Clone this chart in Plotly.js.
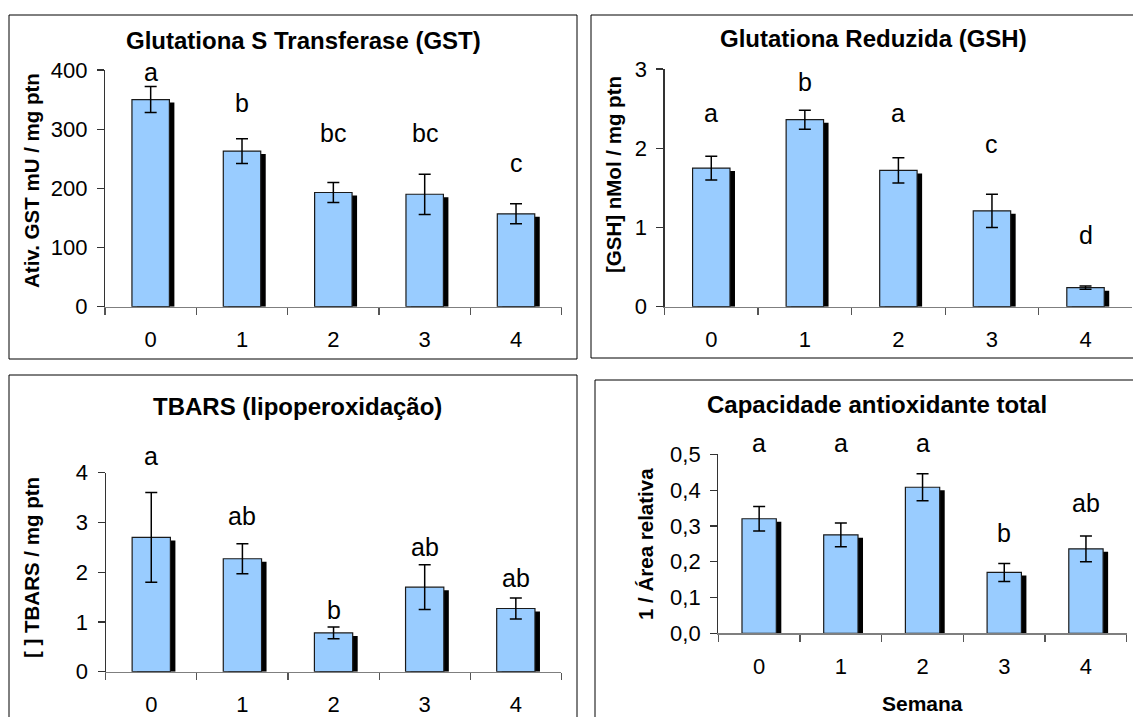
<!DOCTYPE html>
<html>
<head>
<meta charset="utf-8">
<script src="https://cdn.plot.ly/plotly-3.0.1.min.js"></script>
<style>html,body{margin:0;padding:0;background:#fff;}#chart{width:1133px;height:717px;}</style>
</head>
<body>
<div id="chart"></div>
<script>
// ---- data ----
const weeks = ['0', '1', '2', '3', '4'];

const gstValues = [350, 263, 193, 190, 157];
const gstErrors = [22, 21, 17, 34, 17];
const gstLetters = ['a', 'b', 'bc', 'bc', 'c'];
const gstLetterY = [397, 345, 293, 293, 242];

const gshValues = [1.75, 2.36, 1.72, 1.21, 0.24];
const gshErrors = [0.15, 0.12, 0.16, 0.21, 0.02];
const gshLetters = ['a', 'b', 'a', 'c', 'd'];
const gshLetterY = [2.45, 2.84, 2.45, 2.05, 0.90];

const tbarsValues = [2.70, 2.27, 0.78, 1.70, 1.27];
const tbarsErrors = [0.90, 0.30, 0.12, 0.45, 0.21];
const tbarsLetters = ['a', 'ab', 'b', 'ab', 'ab'];
const tbarsLetterY = [4.33, 3.12, 1.25, 2.51, 1.88];

const tacValues = [0.320, 0.275, 0.408, 0.170, 0.236];
const tacErrors = [0.034, 0.033, 0.038, 0.025, 0.036];
const tacLetters = ['a', 'a', 'a', 'b', 'ab'];
const tacLetterY = [0.531, 0.531, 0.531, 0.279, 0.363];

// ---- layout helpers (pixel geometry) ----
const W = 1133, H = 717;
const FONT = 'Liberation Sans, Arial, sans-serif';
const px = v => v / W;
const py = v => 1 - v / H;

const panels = [
  {key: '', vals: gstValues, errs: gstErrors, letters: gstLetters, ly: gstLetterY,
   x0: 105, x1: 561.7, y0: 70, y1: 306.7, range: [0, 400], dtick: 100, fmt: 'd', bw: 0.41,
   title: 'Glutationa S Transferase (GST)', tx: 303, ty: 40,
   ytitle: 'Ativ. GST mU / mg ptn', ytx: 31, yty: 181},
  {key: '2', vals: gshValues, errs: gshErrors, letters: gshLetters, ly: gshLetterY,
   x0: 664.5, x1: 1132.3, y0: 69, y1: 306.7, range: [0, 3], dtick: 1, fmt: 'd', bw: 0.40,
   title: 'Glutationa Reduzida (GSH)', tx: 873, ty: 39,
   ytitle: '[GSH] nMol / mg ptn', ytx: 613, yty: 175},
  {key: '3', vals: tbarsValues, errs: tbarsErrors, letters: tbarsLetters, ly: tbarsLetterY,
   x0: 105.7, x1: 561.4, y0: 472.7, y1: 671.7, range: [0, 4], dtick: 1, fmt: 'd', bw: 0.42,
   title: 'TBARS (lipoperoxidação)', tx: 297, ty: 406,
   ytitle: '[ ] TBARS / mg ptn', ytx: 31, yty: 568},
  {key: '4', vals: tacValues, errs: tacErrors, letters: tacLetters, ly: tacLetterY,
   x0: 718.3, x1: 1126.8, y0: 454.3, y1: 633.3, range: [0, 0.5], dtick: 0.1, fmt: '.1f', bw: 0.42,
   title: 'Capacidade antioxidante total', tx: 877, ty: 404,
   ytitle: '1 / Área relativa', ytx: 645, yty: 544,
   xtitle: 'Semana', xtx: 922, xty: 703}
];

const traces = [];
const annotations = [];
const layout = {
  width: W, height: H,
  margin: {l: 0, r: 0, t: 0, b: 0},
  paper_bgcolor: '#fff', plot_bgcolor: 'rgba(0,0,0,0)',
  showlegend: false,
  barmode: 'overlay',
  separators: ',.',
  font: {family: FONT, color: '#000', size: 22},
  shapes: [
    {type: 'rect', xref: 'paper', yref: 'paper', x0: px(9), x1: px(577), y0: py(15), y1: py(359), line: {color: '#000', width: 1}},
    {type: 'rect', xref: 'paper', yref: 'paper', x0: px(591), x1: px(1140), y0: py(15), y1: py(358), line: {color: '#000', width: 1}},
    {type: 'rect', xref: 'paper', yref: 'paper', x0: px(9), x1: px(577), y0: py(375), y1: py(730), line: {color: '#000', width: 1}},
    {type: 'rect', xref: 'paper', yref: 'paper', x0: px(595), x1: px(1140), y0: py(380), y1: py(730), line: {color: '#000', width: 1}}
  ],
  annotations: annotations
};

panels.forEach(p => {
  const xa = 'x' + p.key, ya = 'y' + p.key;
  const catPx = (p.x1 - p.x0) / weeks.length;
  const unitPerPxY = (p.range[1] - p.range[0]) / (p.y1 - p.y0);
  const shadowDx = 5 / catPx;       // shadow shifted 5 px right
  const shadowDy = 3 * unitPerPxY;  // and 3 px down
  // shadow
  traces.push({
    type: 'bar', x: weeks, y: p.vals.map(v => v - shadowDy), xaxis: xa, yaxis: ya,
    width: p.bw, offset: -p.bw / 2 + shadowDx,
    marker: {color: '#000', line: {width: 0}}, hoverinfo: 'skip'
  });
  // main bars
  traces.push({
    type: 'bar', x: weeks, y: p.vals, xaxis: xa, yaxis: ya,
    width: p.bw, offset: -p.bw / 2,
    marker: {color: '#99CCFF', line: {color: '#1a1a1a', width: 1.2}},
    error_y: {type: 'data', array: p.errs, visible: true, color: '#000', thickness: 1.5, width: 6}
  });
  layout['xaxis' + p.key] = {
    domain: [px(p.x0), px(p.x1)], anchor: ya, type: 'category',
    range: [-0.5, 4.5], showgrid: false, zeroline: false,
    showline: true, linecolor: '#7f7f7f', linewidth: 1.2,
    ticks: 'outside', tickson: 'boundaries', ticklen: 7, tickcolor: '#555', tickwidth: 1.2,
    tickfont: {size: 22, family: FONT, color: '#000'}, ticklabelstandoff: 13,
    fixedrange: true
  };
  layout['yaxis' + p.key] = {
    domain: [py(p.y1), py(p.y0)], anchor: xa,
    range: p.range, dtick: p.dtick, tick0: 0, tickformat: p.fmt,
    showgrid: false, zeroline: false,
    showline: true, linecolor: '#333', linewidth: 1.2,
    ticks: 'outside', ticklen: 7, tickcolor: '#333', tickwidth: 1.2,
    tickfont: {size: 22, family: FONT, color: '#000'}, ticklabelstandoff: 5,
    fixedrange: true
  };
  // panel title
  annotations.push({xref: 'paper', yref: 'paper', x: px(p.tx), y: py(p.ty), text: '<b>' + p.title + '</b>',
    showarrow: false, xanchor: 'center', yanchor: 'middle', font: {size: 24, family: FONT, color: '#000'}});
  // y-axis title
  annotations.push({xref: 'paper', yref: 'paper', x: px(p.ytx), y: py(p.yty), text: '<b>' + p.ytitle + '</b>',
    textangle: -90, showarrow: false, xanchor: 'center', yanchor: 'middle', font: {size: 20.5, family: FONT, color: '#000'}});
  if (p.xtitle) {
    annotations.push({xref: 'paper', yref: 'paper', x: px(p.xtx), y: py(p.xty), text: '<b>' + p.xtitle + '</b>',
      showarrow: false, xanchor: 'center', yanchor: 'middle', font: {size: 21, family: FONT, color: '#000'}});
  }
  // significance letters (y given in data units, placed via the axis domain so labels above the range stay visible)
  p.letters.forEach((t, i) => {
    annotations.push({xref: xa, yref: ya + ' domain', x: weeks[i],
      y: (p.ly[i] - p.range[0]) / (p.range[1] - p.range[0]), text: t, showarrow: false,
      xanchor: 'center', yanchor: 'middle', font: {size: 25, family: FONT, color: '#000'}});
  });
});

Plotly.newPlot('chart', traces, layout, {displayModeBar: false, staticPlot: true});
</script>
</body>
</html>
